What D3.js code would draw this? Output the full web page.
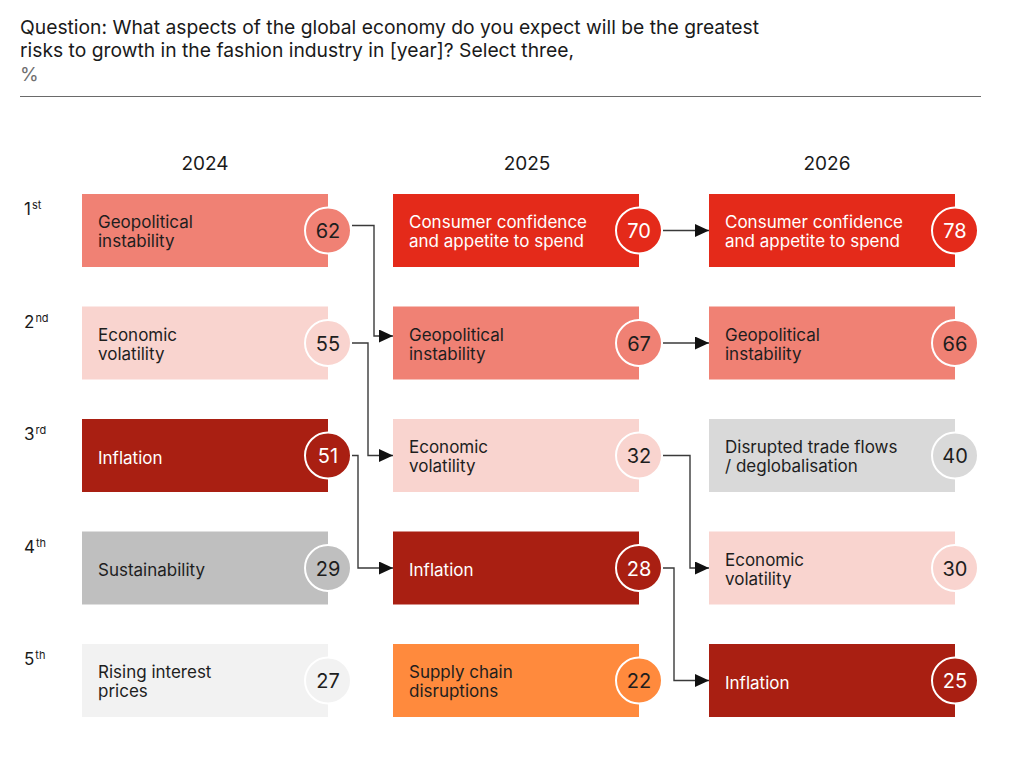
<!DOCTYPE html>
<html><head><meta charset="utf-8">
<script src="https://cdn.jsdelivr.net/npm/d3@7"></script>
<style>
body{margin:0;background:#fff}
text{font-family:Inter,"Noto Sans",sans-serif}
</style>
</head><body>
<svg id="chart" width="1024" height="758"></svg>
<script>
// ---------- data ----------
const titleLines = [
  "Question: What aspects of the global economy do you expect will be the greatest",
  "risks to growth in the fashion industry in [year]? Select three,"
];
const unitLabel = "%";
const years = ["2024", "2025", "2026"];
const rankNumbers = ["1", "2", "3", "4", "5"];
const rankSuffixes = ["st", "nd", "rd", "th", "th"];

const risks2024 = ["Geopolitical instability", "Economic volatility", "Inflation", "Sustainability", "Rising interest prices"];
const values2024 = [62, 55, 51, 29, 27];
const risks2025 = ["Consumer confidence and appetite to spend", "Geopolitical instability", "Economic volatility", "Inflation", "Supply chain disruptions"];
const values2025 = [70, 67, 32, 28, 22];
const risks2026 = ["Consumer confidence and appetite to spend", "Geopolitical instability", "Disrupted trade flows / deglobalisation", "Economic volatility", "Inflation"];
const values2026 = [78, 66, 40, 30, 25];

// ---------- presentation ----------
const labelLines = {
  "Geopolitical instability": ["Geopolitical", "instability"],
  "Economic volatility": ["Economic", "volatility"],
  "Inflation": ["Inflation"],
  "Sustainability": ["Sustainability"],
  "Rising interest prices": ["Rising interest", "prices"],
  "Consumer confidence and appetite to spend": ["Consumer confidence", "and appetite to spend"],
  "Supply chain disruptions": ["Supply chain", "disruptions"],
  "Disrupted trade flows / deglobalisation": ["Disrupted trade flows", "/ deglobalisation"]
};
const fillColor = {
  "Geopolitical instability": "#F08174",
  "Economic volatility": "#F9D4CF",
  "Inflation": "#A91F12",
  "Sustainability": "#BFBFBF",
  "Rising interest prices": "#F2F2F2",
  "Consumer confidence and appetite to spend": "#E42A1A",
  "Supply chain disruptions": "#FF8A3D",
  "Disrupted trade flows / deglobalisation": "#D9D9D9"
};
const whiteText = new Set(["Inflation", "Consumer confidence and appetite to spend"]);
const darkText = "#1e1e1e";

const columns = years.map((y, k) => ({
  year: y,
  risks: [risks2024, risks2025, risks2026][k],
  values: [values2024, values2025, values2026][k]
}));

// layout
const boxW = 246, boxH = 73, circleR = 23;
const colX = d3.scaleOrdinal().domain(years).range([82, 393, 709]);
const yearLabelX = d3.scaleOrdinal().domain(years).range([205, 527, 827]);
const rowTop = d3.scaleLinear().domain([0, 4]).range([194, 644]);
const rowMid = i => rowTop(i) + boxH / 2;
const laneX = [{0: 374, 1: 368, 2: 358}, {2: 690, 3: 674}];
const connYShift = {"0-0": [-5, -7]};

const svg = d3.select("#chart");

// marker
svg.append("defs").append("marker")
  .attr("id", "arrow").attr("markerUnits", "userSpaceOnUse")
  .attr("markerWidth", 15).attr("markerHeight", 14)
  .attr("refX", 14).attr("refY", 6.5).attr("orient", "auto")
  .append("path").attr("d", "M0,0 L14,6.5 L0,13 Z").attr("fill", "#111");

// title
svg.append("g").selectAll("text").data(titleLines).join("text")
  .attr("x", 20).attr("y", (d, i) => 34 + i * 22.5)
  .attr("font-size", 19.3).attr("fill", "#1a1a1a").text(d => d);
svg.append("text").attr("x", 20).attr("y", 81).attr("font-size", 19)
  .attr("fill", "#6f6f6f").text(unitLabel);
svg.append("line").attr("x1", 20).attr("x2", 981).attr("y1", 96.5).attr("y2", 96.5)
  .attr("stroke", "#6a6a6a").attr("stroke-width", 1.2);

// year labels
svg.append("g").selectAll("text").data(years).join("text")
  .attr("x", d => yearLabelX(d)).attr("y", 170).attr("text-anchor", "middle")
  .attr("font-size", 19).attr("fill", "#1a1a1a").text(d => d);

// rank labels
const rk = svg.append("g").selectAll("text").data(rankNumbers).join("text")
  .attr("x", 24).attr("y", (d, i) => rowTop(i) + 21)
  .attr("font-size", 17).attr("fill", "#1a1a1a");
rk.append("tspan").text(d => d);
rk.append("tspan").attr("font-size", 11).attr("dy", -6).attr("dx", 1)
  .text((d, i) => rankSuffixes[i]);

// connectors
const connG = svg.append("g");
columns.slice(0, -1).forEach((col, g) => {
  const next = columns[g + 1];
  col.risks.forEach((r, i) => {
    const j = next.risks.indexOf(r);
    if (j < 0) return;
    const sh = connYShift[g + "-" + i] || [0, 0];
    const x0 = colX(col.year) + boxW + circleR + 1;
    const y0 = rowMid(i) + sh[0];
    const x1 = colX(next.year);
    const y1 = rowMid(j) + sh[1];
    let d;
    if (i === j) d = `M${x0},${y0}H${x1}`;
    else {
      const lx = laneX[g][i];
      d = `M${x0},${y0}H${lx}V${y1}H${x1}`;
    }
    connG.append("path").attr("d", d).attr("fill", "none")
      .attr("stroke", "#3a3a3a").attr("stroke-width", 1.4)
      .attr("marker-end", "url(#arrow)");
  });
});

// boxes
columns.forEach(col => {
  const g = svg.append("g");
  const items = col.risks.map((r, i) => ({r, v: col.values[i], i}));
  const cell = g.selectAll("g").data(items).join("g");
  cell.append("rect")
    .attr("x", colX(col.year)).attr("y", d => rowTop(d.i))
    .attr("width", boxW).attr("height", boxH)
    .attr("fill", d => fillColor[d.r]);
  cell.each(function(d) {
    const lines = labelLines[d.r];
    const mid = rowMid(d.i);
    const ys = lines.length === 1 ? [mid + 8] : [mid - 2.5, mid + 16.5];
    d3.select(this).selectAll("text.lbl").data(lines).join("text")
      .attr("class", "lbl")
      .attr("x", colX(col.year) + 16).attr("y", (t, k) => ys[k])
      .attr("font-size", 17)
      .attr("fill", whiteText.has(d.r) ? "#fff" : darkText)
      .text(t => t);
  });
  cell.append("circle")
    .attr("cx", colX(col.year) + boxW).attr("cy", d => rowMid(d.i))
    .attr("r", circleR).attr("fill", d => fillColor[d.r])
    .attr("stroke", "#fff").attr("stroke-width", 2);
  cell.append("text")
    .attr("x", colX(col.year) + boxW).attr("y", d => rowMid(d.i) + 7.5)
    .attr("text-anchor", "middle").attr("font-size", 20)
    .attr("fill", d => whiteText.has(d.r) ? "#fff" : darkText)
    .text(d => d.v);
});
</script>
</body></html>
